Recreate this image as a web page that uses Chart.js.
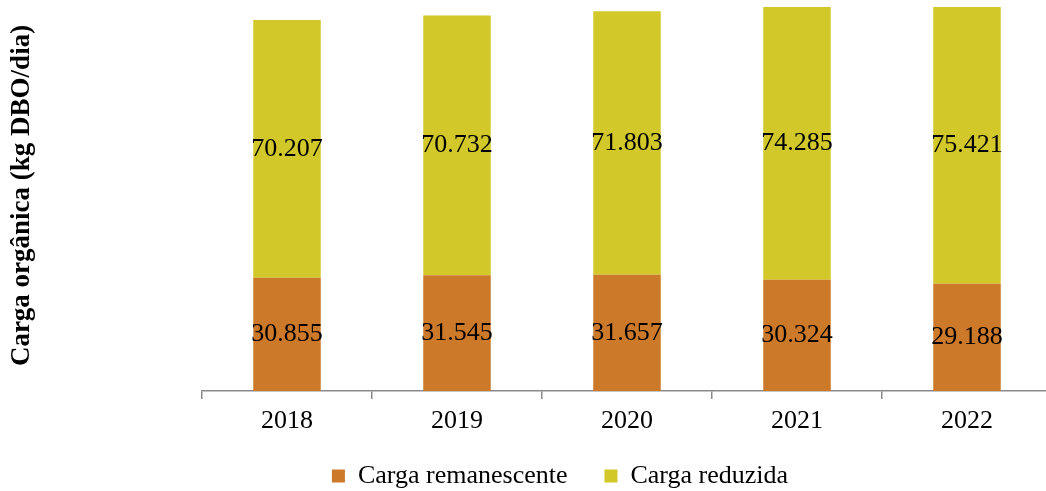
<!DOCTYPE html>
<html>
<head>
<meta charset="utf-8">
<script src="https://cdn.jsdelivr.net/npm/chart.js@4"></script>
<style>
  html, body { margin: 0; padding: 0; background: #fff; overflow: hidden; }
  #wrap { position: relative; width: 1052px; height: 509px; }
</style>
</head>
<body>
<div id="wrap"><canvas id="carga-chart"></canvas></div>
<script>
const years = ['2018', '2019', '2020', '2021', '2022'];
const remanescente = [30855, 31545, 31657, 30324, 29188];
const reduzida = [70207, 70732, 71803, 74285, 75421];
const Y_MAX = 106500;

const serif = 'Liberation Serif, Times New Roman, serif';

function formatBR(v) {
    return String(v).replace(/\B(?=(\d{3})+(?!\d))/g, '.');
}

// value written in the middle of every stacked segment
const segmentLabels = {
    id: 'segmentLabels',
    afterDatasetsDraw(chart) {
        const ctx = chart.ctx;
        ctx.save();
        ctx.font = '26px ' + serif;
        ctx.fillStyle = '#000';
        ctx.textAlign = 'center';
        ctx.textBaseline = 'middle';
        chart.data.datasets.forEach((ds, i) => {
            chart.getDatasetMeta(i).data.forEach((bar, j) => {
                ctx.fillText(formatBR(ds.data[j]), bar.x, (bar.y + bar.base) / 2);
            });
        });
        ctx.restore();
    }
};

// legend sits a bit right of the canvas centre and closer to the axis labels
const legendShift = {
    id: 'legendShift',
    afterLayout(chart) {
        const lg = chart.legend;
        lg.left += 34;
        lg.right += 34;
        lg.top -= 10;
        lg.bottom -= 10;
    }
};

const ctx = document.getElementById('carga-chart').getContext('2d');
new Chart(ctx, {
    type: 'bar',
    data: {
        labels: years,
        datasets: [
            { label: 'Carga remanescente', data: remanescente, backgroundColor: '#CC7A29' },
            { label: 'Carga reduzida', data: reduzida, backgroundColor: '#D2C82A' }
        ]
    },
    options: {
        responsive: true,
        maintainAspectRatio: false,
        animation: false,
        layout: { padding: 0 },
        datasets: { bar: { categoryPercentage: 1, barPercentage: 0.397 } },
        scales: {
            x: {
                stacked: true,
                grid: { display: true, drawOnChartArea: false, drawTicks: true, tickLength: 8, color: '#898989', lineWidth: 1.5 },
                border: { display: true, color: '#898989', width: 1.5 },
                ticks: { font: { family: serif, size: 26 }, color: '#000', padding: 7 },
                afterFit: (s) => { s.height = 45; }
            },
            y: {
                stacked: true,
                min: 0,
                max: Y_MAX,
                grid: { display: false },
                border: { display: false },
                ticks: { display: false },
                title: {
                    display: true,
                    text: 'Carga orgânica (kg DBO/dia)',
                    font: { family: serif, size: 27, weight: 'bold' },
                    color: '#000',
                    padding: { top: 6, bottom: 0 }
                },
                afterFit: (s) => { s.width = 202; }
            }
        },
        plugins: {
            legend: {
                position: 'bottom',
                labels: {
                    boxWidth: 13,
                    boxHeight: 13,
                    padding: 37,
                    color: '#000',
                    font: { family: serif, size: 26 }
                }
            },
            tooltip: { enabled: false }
        }
    },
    plugins: [segmentLabels, legendShift]
});
</script>
</body>
</html>
